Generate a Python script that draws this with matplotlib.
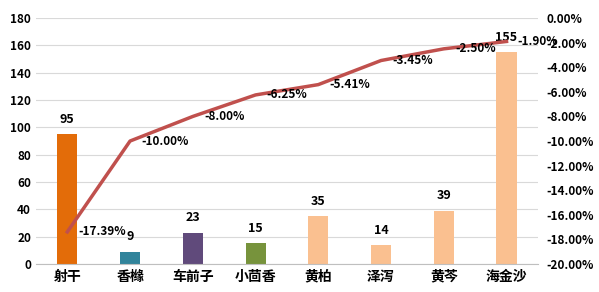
import matplotlib.pyplot as plt
from matplotlib.ticker import FuncFormatter

plt.rcParams["font.family"] = ["Noto Sans CJK SC", "DejaVu Sans"]
plt.rcParams["font.weight"] = "bold"

# data
herbs = ["射干", "香橼", "车前子", "小茴香", "黄柏", "泽泻", "黄芩", "海金沙"]
counts = [95, 9, 23, 15, 35, 14, 39, 155]
change = [-17.39, -10.00, -8.00, -6.25, -5.41, -3.45, -2.50, -1.90]
bar_colors = ["#E36C09", "#31849B", "#604A7B", "#77933C",
              "#FAC090", "#FAC090", "#FAC090", "#FAC090"]

fig = plt.figure(figsize=(5.99, 2.92), dpi=100)
ax = fig.add_axes([0.06, 0.096, 0.838, 0.842])
x = range(len(herbs))

ax.bar(x, counts, width=0.32, color=bar_colors, zorder=2)
for i, v in enumerate(counts):
    ax.annotate(str(v), (i, v), xytext=(0, 6), textcoords="offset points",
                ha="center", va="bottom", fontsize=9, fontweight="bold")

ax.set_ylim(0, 180)
ax.set_yticks(range(0, 181, 20))
ax.set_xlim(-0.5, len(herbs) - 0.5)
ax.set_xticks(list(x))
ax.set_xticklabels(herbs, fontsize=10, fontweight="bold")
ax.tick_params(axis="y", labelsize=8.5, length=0)
ax.tick_params(axis="x", length=0, pad=4)
ax.grid(axis="y", color="#D9D9D9", linewidth=0.8, zorder=0)
for s in ["top", "right", "left"]:
    ax.spines[s].set_visible(False)
ax.spines["bottom"].set_color("#BFBFBF")

ax2 = ax.twinx()
ax2.plot(list(x), change, color="#C0504D", linewidth=2.5, zorder=3)
for i, v in enumerate(change):
    ax2.annotate(f"{v:.2f}%", (i, v), xytext=(8, 0), textcoords="offset points",
                 ha="left", va="center", fontsize=8.5, fontweight="bold")
ax2.set_ylim(-20, 0)
ax2.set_yticks(range(-20, 1, 2))
ax2.yaxis.set_major_formatter(FuncFormatter(lambda v, p: f"{v:.2f}%"))
ax2.tick_params(axis="y", labelsize=8.5, length=0, pad=6)
for s in ax2.spines.values():
    s.set_visible(False)

fig.savefig("out.png", dpi=100)
